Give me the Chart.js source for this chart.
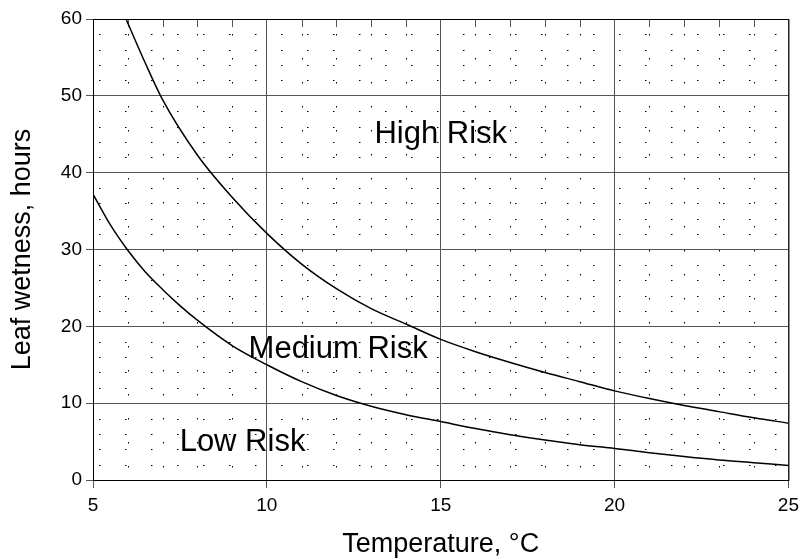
<!DOCTYPE html>
<html>
<head>
<meta charset="utf-8">
<title>Leaf wetness risk</title>
<script src="https://cdn.jsdelivr.net/npm/chart.js@4.4.1/dist/chart.umd.min.js"></script>
<style>
  html, body { margin: 0; padding: 0; background: #fff; }
</style>
</head>
<body>
<canvas id="chart" width="805" height="559"></canvas>
<script>
// ---------- Data ----------
const highX = [5.95, 6.5, 7, 8, 9, 10, 11, 12, 13, 14, 15, 16, 17, 18, 19, 20, 21, 22, 23, 24, 25];
const highY = [60, 54.3, 49.5, 42.3, 36.8, 32.1, 28.1, 24.9, 22.3, 20.3, 18.3, 16.7, 15.3, 14.0, 12.8, 11.6, 10.6, 9.7, 8.9, 8.1, 7.4];

const lowX = [5, 5.5, 6, 6.5, 7, 7.5, 8, 9, 10, 11, 12, 13, 14, 15, 16, 17, 18, 19, 20, 21, 22, 23, 24, 25];
const lowY = [37.2, 33.2, 29.9, 27.1, 24.8, 22.7, 20.8, 17.5, 15.0, 12.8, 11.0, 9.6, 8.5, 7.6, 6.7, 5.9, 5.2, 4.6, 4.1, 3.55, 3.05, 2.6, 2.25, 1.9];

const zoneNames = ['High Risk', 'Medium Risk', 'Low Risk'];
const zoneX = [15.0, 12.05, 9.3];
const zoneY = [45.0, 17.0, 4.9];

const xMin = 5, xMax = 25, xStep = 5, xMinorStep = 1;
const yMin = 0, yMax = 60, yStep = 10, yMinorStep = 2;

const FONT = '"Liberation Sans", Arial, sans-serif';

function toPoints(xs, ys) {
  return xs.map((x, i) => ({ x, y: ys[i] }));
}

// ---------- Plugins ----------
// dotted minor grid + little inside ticks along the top edge
const minorGrid = {
  id: 'minorGrid',
  beforeDatasetsDraw(chart) {
    const { ctx, chartArea: a, scales: { x, y } } = chart;
    ctx.save();
    ctx.strokeStyle = '#000';
    ctx.lineWidth = 1;

    ctx.setLineDash([1.5, 22.5]);
    for (let v = xMin + xMinorStep; v < xMax; v += xMinorStep) {
      if (v % xStep === 0) continue;
      const px = Math.round(x.getPixelForValue(v)) + 0.5;
      ctx.beginPath();
      ctx.moveTo(px, a.top + 15);
      ctx.lineTo(px, a.bottom);
      ctx.stroke();
    }

    ctx.setLineDash([1.5, 24.5]);
    for (let v = yMin + yMinorStep; v < yMax; v += yMinorStep) {
      if (v % yStep === 0) continue;
      const py = Math.round(y.getPixelForValue(v)) + 0.5;
      ctx.beginPath();
      ctx.moveTo(a.left + 6, py);
      ctx.lineTo(a.right, py);
      ctx.stroke();
    }

    ctx.setLineDash([]);
    ctx.strokeStyle = '#555';
    for (let v = xMin + xMinorStep; v < xMax; v += xMinorStep) {
      if (v % xStep === 0) continue;
      const px = Math.round(x.getPixelForValue(v)) + 0.5;
      ctx.beginPath();
      ctx.moveTo(px, a.top);
      ctx.lineTo(px, a.top + 8);
      ctx.stroke();
    }
    ctx.restore();
  },
  afterDatasetsDraw(chart) {
    const { ctx, chartArea: a, scales: { x, y } } = chart;
    ctx.save();
    ctx.strokeStyle = '#000';
    ctx.lineWidth = 1;
    ctx.strokeRect(a.left + 0.5, a.top + 0.5, a.right - a.left, a.bottom - a.top);

    ctx.fillStyle = '#000';
    ctx.font = '31px ' + FONT;
    ctx.textAlign = 'center';
    ctx.textBaseline = 'middle';
    zoneNames.forEach((name, i) => {
      ctx.fillText(name, x.getPixelForValue(zoneX[i]), y.getPixelForValue(zoneY[i]));
    });
    ctx.restore();
  }
};

// ---------- Chart ----------
new Chart(document.getElementById('chart'), {
  type: 'scatter',
  data: {
    datasets: [
      {
        label: 'High / Medium',
        data: toPoints(highX, highY),
        showLine: true,
        borderColor: '#000',
        borderWidth: 1.5,
        pointRadius: 0,
        cubicInterpolationMode: 'monotone'
      },
      {
        label: 'Medium / Low',
        data: toPoints(lowX, lowY),
        showLine: true,
        borderColor: '#000',
        borderWidth: 1.5,
        pointRadius: 0,
        cubicInterpolationMode: 'monotone'
      }
    ]
  },
  options: {
    responsive: false,
    animation: false,
    layout: { padding: { top: 19, right: 12, left: 0, bottom: 0 } },
    plugins: {
      legend: { display: false },
      tooltip: { enabled: false }
    },
    scales: {
      x: {
        type: 'linear',
        min: xMin,
        max: xMax,
        ticks: { stepSize: xStep, color: '#000', font: { family: FONT, size: 19 }, padding: 6 },
        grid: { color: '#555', lineWidth: 1, tickLength: 8 },
        border: { display: true, color: '#000', width: 1 },
        title: {
          display: true,
          text: 'Temperature, °C',
          color: '#000',
          font: { family: FONT, size: 27, lineHeight: 1.1 },
          padding: { top: 8, bottom: 0 }
        },
        afterFit(s) { s.height = 79; }
      },
      y: {
        min: yMin,
        max: yMax,
        ticks: { stepSize: yStep, color: '#000', font: { family: FONT, size: 19 }, padding: 4 },
        grid: { color: '#555', lineWidth: 1, tickLength: 7 },
        border: { display: true, color: '#000', width: 1 },
        title: {
          display: true,
          text: 'Leaf wetness, hours',
          color: '#000',
          font: { family: FONT, size: 27 },
          padding: { top: 6, bottom: 0 }
        },
        afterFit(s) { s.width = 93; }
      }
    }
  },
  plugins: [minorGrid]
});
</script>
</body>
</html>
